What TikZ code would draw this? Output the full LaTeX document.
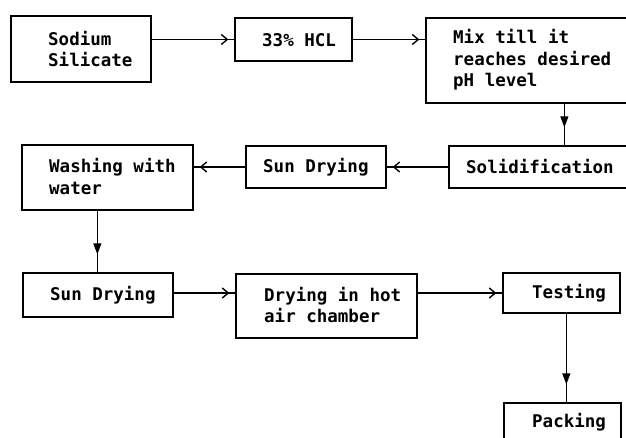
\documentclass[tikz,border=0pt]{standalone}
\usepackage{fontspec}
\newfontfamily\dmono{DejaVu Sans Mono}
\usetikzlibrary{arrows.meta,decorations.markings}
\tikzset{
  box/.style={draw, line width=1.3pt, inner sep=0pt, rectangle},
  txt/.style={inner sep=0pt, align=left, anchor=west,
    font=\dmono\bfseries\fontsize{17.5}{21.5}\selectfont},
  hconn/.style={draw, line width=1.1pt, postaction=decorate,
    decoration={markings, mark=at position -6pt with {\arrow{Straight Barb[length=6pt,width=10pt,line width=1.4pt]}}}},
  vconn/.style={draw, line width=1.1pt, postaction=decorate,
    decoration={markings, mark=at position -18pt with {\arrow{Triangle[length=11pt,width=8pt]}}}}
}
\begin{document}
\begin{tikzpicture}[x=1pt,y=-1pt]
\useasboundingbox (0,0) rectangle (626,438);
\clip (0,0) rectangle (626,438);
\fill[white] (0,0) rectangle (626,438);
% boxes
\node[box, minimum width=140pt, minimum height=66pt] (ss) at (81,49) {};
\node[box, minimum width=117pt, minimum height=43pt] (hcl) at (293.5,39.5) {};
\node[box, minimum width=214pt, minimum height=85pt] (mix) at (533,60.5) {};
\node[box, minimum width=181pt, minimum height=42pt] (sol) at (539.5,167) {};
\node[box, minimum width=140pt, minimum height=42pt] (sd1) at (316,167) {};
\node[box, minimum width=171pt, minimum height=65pt] (wash) at (107.5,177.5) {};
\node[box, minimum width=150pt, minimum height=44pt] (sd2) at (98,295) {};
\node[box, minimum width=181pt, minimum height=64pt] (dry) at (326.5,306) {};
\node[box, minimum width=117pt, minimum height=40pt] (test) at (561.5,293) {};
\node[box, minimum width=117pt, minimum height=40pt] (pack) at (562.5,423) {};
% texts
\node[txt] (ss-t) at (48,49) {Sodium\\Silicate};
\node[txt] (hcl-t) at (262,40) {33\% HCL};
\node[txt] (mix-t) at (453,60) {Mix till it\\reaches desired\\pH level};
\node[txt] (sol-t) at (466,167) {Solidification};
\node[txt] (sd1-t) at (263,167) {Sun Drying};
\node[txt] (wash-t) at (49,176.5) {Washing with\\water};
\node[txt] (sd2-t) at (50,295) {Sun Drying};
\node[txt] (dry-t) at (264,305) {Drying in hot\\air chamber};
\node[txt] (test-t) at (532,293) {Testing};
\node[txt] (pack-t) at (532,422) {Packing};
% connectors
\draw[hconn] (ss.east |- hcl.west) -- (hcl.west);
\draw[hconn] (hcl.east) -- (hcl.east -| mix.west);
\draw[vconn] ([xshift=139pt]mix.south west) -- ([xshift=116pt]sol.north west);
\draw[hconn] (sol.west) -- (sd1.east);
\draw[hconn] (sd1.west) -- (sd1.west -| wash.east);
\draw[vconn] ([xshift=76pt]wash.south west) -- ([xshift=75pt]sd2.north west);
\draw[hconn] (sd2.east |- test.west) -- (sd2.east |- test.west -| dry.west);
\draw[hconn] (dry.east |- test.west) -- (test.west);
\draw[vconn] ([xshift=64pt]test.south west) -- ([xshift=63pt]pack.north west);
\end{tikzpicture}
\end{document}
